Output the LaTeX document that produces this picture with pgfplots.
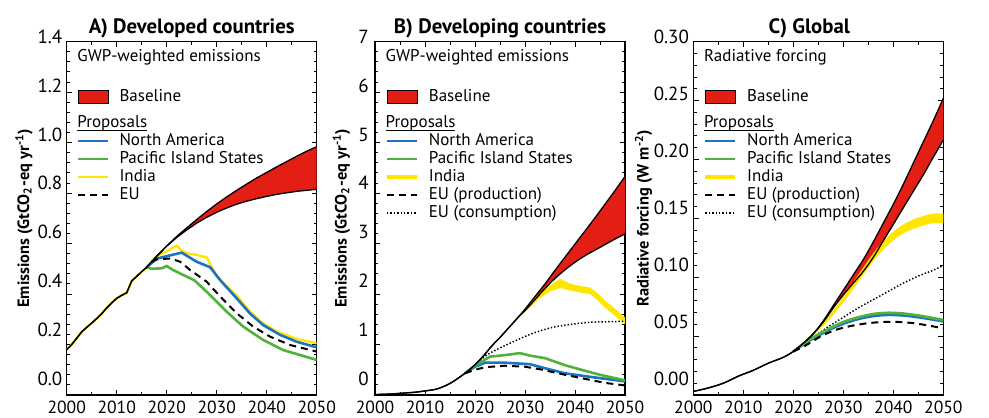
\documentclass[border=0pt]{standalone}
\usepackage{fontspec}
\setmainfont{PT Sans}
\usepackage{pgfplots}
\pgfplotsset{compat=1.18}
\usepgfplotslibrary{fillbetween}

\definecolor{bred}{RGB}{227,30,20}
\definecolor{nablue}{RGB}{30,115,190}
\definecolor{pisgreen}{RGB}{80,178,60}
\definecolor{indyellow}{RGB}{255,230,0}

\newcommand\lfont{\fontsize{8.5}{10}\selectfont}
% underlined heading of the proposal group
\newcommand\ulined[1]{\setbox0\hbox{#1}\rlap{\rule[-1.7pt]{\wd0}{0.45pt}}\box0}

\pgfplotsset{
  panel/.style={
    set layers,
    scale only axis, width=125pt, height=176.67pt,
    anchor=south west,
    xmin=2000, xmax=2050, xtick={2000,2010,2020,2030,2040,2050},
    minor x tick num=1, minor y tick num=4,
    tick align=inside, major tick length=2.6pt, minor tick length=1.6pt,
    axis line style={line width=0.6pt},
    every tick/.style={black, line width=0.45pt},
    /pgf/number format/assume math mode=true,
    xticklabel style={font=\fontsize{8.8}{10}\selectfont,
      /pgf/number format/1000 sep={}, inner sep=0pt, yshift=-3pt},
    yticklabel style={font=\fontsize{9.5}{11}\selectfont, inner xsep=2pt, inner ysep=0pt},
    every axis title/.style={at={(axis description cs:0.5,1)}, anchor=base, yshift=4.2pt,
      font=\bfseries\fontsize{10.4}{12}\selectfont},
    legend cell align=left,
    legend style={draw=none, fill=none, font=\lfont, inner sep=0pt, outer sep=0pt,
      row sep=1.4pt, column sep=5pt,
      nodes={inner sep=0pt, text height=6pt, text depth=1.6pt},
      at={(axis description cs:0.041,0.866)}, anchor=north west},
    legend image code/.code={\draw[##1] (0pt,0pt) -- (15pt,0pt);},
  },
  ylab/.style={every axis y label/.style={at={(axis description cs:#1,0.5)}, rotate=90,
    anchor=center, font=\bfseries\fontsize{8.2}{10}\selectfont}},
  shiftlab/.style={yticklabel={\pgfmathsetmacro\labraise{4.7-5.5*\tick/#1}%
    \raisebox{\labraise pt}[0pt][0pt]{\pgfmathprintnumber{\tick}}}},
  baseimg/.style={legend image code/.code={\draw[fill=bred, draw=black, line width=0.4pt]
    (0pt,-3.2pt) rectangle (15pt,3.2pt);}},
  nastyle/.style={nablue, line width=1.3pt},
  pisstyle/.style={pisgreen, line width=1.3pt},
  indstyle/.style={indyellow, line width=1.2pt},
  eustyle/.style={black, line width=1pt, dash pattern=on 3.5pt off 2.5pt},
  eucstyle/.style={black, line width=0.75pt, dash pattern=on 0.7pt off 1pt},
  basestyle/.style={black, line width=0.65pt},
}

\begin{document}
\begin{tikzpicture}

% ---------------- A) Developed countries ----------------
\begin{axis}[panel, ylab=-0.171, at={(33.35pt,11pt)},
  ymin=0, ymax=1.4, ytick={0,0.2,0.4,0.6,0.8,1.0,1.2,1.4}, shiftlab=1.4,
  yticklabel style={/pgf/number format/fixed, /pgf/number format/zerofill,
    /pgf/number format/precision=1},
  title={A) Developed countries},
  ylabel={Emissions (GtCO\textsubscript{2}-eq yr\textsuperscript{-1})}]
\node[anchor=base west, font=\lfont, inner sep=0pt] at (axis description cs:0.041,0.943) {GWP-weighted emissions};
\node[anchor=base west, font=\lfont, inner sep=0pt] at (axis description cs:0.041,0.757) {\ulined{Proposals}};

\addplot[indstyle, forget plot] coordinates {(2000,0.18)(2001,0.20)(2002,0.225)(2003,0.25)(2004,0.268)(2005,0.285)(2006,0.303)(2007,0.322)(2008,0.345)(2009,0.365)(2010,0.383)(2011,0.395)(2012,0.405)(2013,0.452)(2014,0.47)(2015,0.489)(2016,0.506)
  (2017,0.53)(2018,0.55)(2020,0.57)(2022,0.592)(2023,0.572)(2024,0.562)(2026,0.555)(2028,0.545)(2030,0.47)(2032,0.43)(2034,0.395)(2035,0.37)(2036.7,0.33)(2039,0.287)(2042,0.252)(2046,0.222)(2050,0.205)};
\addplot[nastyle, forget plot] coordinates {(2016,0.506)(2018,0.54)(2020,0.55)(2023,0.564)(2026,0.528)(2028.7,0.506)(2030.7,0.455)(2034,0.383)(2036.7,0.322)(2039.3,0.277)(2042.7,0.238)(2046,0.211)(2050,0.189)};
\addplot[pisstyle, forget plot] coordinates {(2016,0.506)(2017,0.5)(2019,0.502)(2020,0.511)(2021.3,0.495)(2024,0.469)(2025.5,0.455)(2028,0.409)(2032,0.33)(2035.3,0.271)(2039.3,0.218)(2043.3,0.178)(2050,0.139)};
\addplot[eustyle, forget plot] coordinates {(2017,0.528)(2018,0.537)(2020.7,0.541)(2022.7,0.528)(2024.7,0.495)(2028,0.449)(2030.7,0.39)(2034,0.324)(2037.3,0.271)(2040.7,0.231)(2044.7,0.198)(2050,0.172)};
\addplot[basestyle, name path=aup, forget plot] coordinates {(2000,0.18)(2001,0.20)(2002,0.225)(2003,0.25)(2004,0.268)(2005,0.285)(2006,0.303)(2007,0.322)(2008,0.345)(2009,0.365)(2010,0.383)(2011,0.395)(2012,0.405)(2013,0.452)(2014,0.47)(2015,0.489)(2016,0.506)(2017,0.528)(2018,0.55)(2019,0.57)(2020,0.59)
  (2022,0.628)(2024,0.662)(2026,0.695)(2028,0.727)(2030,0.757)(2032,0.785)(2034,0.811)(2036,0.836)(2038,0.86)(2040,0.882)(2042,0.904)(2044,0.925)(2046,0.946)(2048,0.966)(2050,0.984)};
\addplot[basestyle, name path=alo, forget plot] coordinates {(2000,0.18)(2001,0.20)(2002,0.225)(2003,0.25)(2004,0.268)(2005,0.285)(2006,0.303)(2007,0.322)(2008,0.345)(2009,0.365)(2010,0.383)(2011,0.395)(2012,0.405)(2013,0.452)(2014,0.47)(2015,0.489)(2016,0.506)(2017,0.528)(2018,0.55)(2019,0.57)(2020,0.59)
  (2022,0.624)(2024,0.654)(2026,0.681)(2028,0.704)(2030,0.724)(2032,0.741)(2034,0.756)(2036,0.768)(2038,0.778)(2040,0.787)(2042,0.795)(2044,0.801)(2046,0.807)(2048,0.811)(2050,0.815)};
\addplot[fill=bred, draw=none, forget plot] fill between[of=aup and alo];

\addlegendimage{baseimg}\addlegendentry{Baseline}
\addlegendimage{empty legend}\addlegendentry[text height=2.8pt, text depth=0pt]{\mbox{}}
\addlegendimage{empty legend}\addlegendentry{\mbox{}}
\addlegendimage{nastyle}\addlegendentry{North America}
\addlegendimage{pisstyle}\addlegendentry{Pacific Island States}
\addlegendimage{indstyle}\addlegendentry{India}
\addlegendimage{eustyle}\addlegendentry{EU}
\end{axis}

% ---------------- B) Developing countries ----------------
\begin{axis}[panel, ylab=-0.134, at={(187.5pt,11pt)},
  ymin=0, ymax=7, ytick={0,1,2,3,4,5,6,7}, shiftlab=7,
  yticklabel style={inner xsep=3pt},
  title={B) Developing countries},
  ylabel={Emissions (GtCO\textsubscript{2}-eq yr\textsuperscript{-1})}]
\node[anchor=base west, font=\lfont, inner sep=0pt] at (axis description cs:0.041,0.943) {GWP-weighted emissions};
\node[anchor=base west, font=\lfont, inner sep=0pt] at (axis description cs:0.041,0.757) {\ulined{Proposals}};

\addplot[draw=none, name path=bihi, forget plot] coordinates {(2028,1.49)(2029,1.6)(2031,1.82)(2033,2.02)(2035,2.17)(2037,2.3)(2039,2.21)(2041,2.16)(2043,2.13)(2044.5,2.02)(2046,1.87)(2048,1.71)(2050,1.54)};
\addplot[draw=none, name path=bilo, forget plot] coordinates {(2028,1.45)(2029,1.56)(2031,1.74)(2033,1.92)(2035,2.05)(2037,2.12)(2039,2.07)(2041,2.03)(2043,2.0)(2044.5,1.88)(2046,1.73)(2048,1.57)(2050,1.40)};
\addplot[eucstyle, smooth, forget plot] coordinates {(2019,0.51)(2020,0.6)(2021,0.69)(2023,0.83)(2026,0.98)(2030,1.16)(2033,1.27)(2036,1.35)(2040,1.41)(2043,1.44)(2046,1.45)(2050,1.46)};
\addplot[nastyle, forget plot] coordinates {(2018,0.43)(2020,0.56)(2022,0.64)(2026,0.64)(2031,0.61)(2034,0.53)(2038,0.43)(2043,0.36)(2050,0.27)};
\addplot[pisstyle, forget plot] coordinates {(2018,0.43)(2020,0.58)(2023,0.76)(2026,0.79)(2029,0.83)(2031,0.78)(2034,0.73)(2038,0.59)(2042,0.48)(2045,0.4)(2050,0.29)};
\addplot[eustyle, forget plot] coordinates {(2018,0.43)(2020,0.5)(2022,0.55)(2026,0.58)(2030,0.56)(2033,0.51)(2038,0.4)(2043,0.3)(2046,0.24)(2050,0.19)};
\addplot[basestyle, smooth, name path=bup, forget plot] coordinates {(2000,0.01)(2002,0.015)(2004,0.025)(2006,0.04)(2008,0.055)(2010,0.08)(2012,0.11)(2013,0.14)(2014,0.18)(2015,0.23)(2016,0.29)(2017,0.36)(2018,0.43)(2019,0.51)(2020,0.6)(2021,0.7)(2022,0.81)(2023,0.93)(2024,1.04)(2025,1.14)(2026,1.25)(2027,1.36)(2028,1.47)(2029,1.58)
  (2030,1.7)(2032,1.95)(2034,2.2)(2036,2.47)(2038,2.73)(2040,2.99)(2042,3.25)(2044,3.51)(2046,3.78)(2048,4.05)(2050,4.33)};
\addplot[basestyle, smooth, name path=blo, forget plot] coordinates {(2000,0.01)(2002,0.015)(2004,0.025)(2006,0.04)(2008,0.055)(2010,0.08)(2012,0.11)(2013,0.14)(2014,0.18)(2015,0.23)(2016,0.29)(2017,0.36)(2018,0.43)(2019,0.51)(2020,0.6)(2021,0.7)(2022,0.81)(2023,0.93)(2024,1.04)(2025,1.14)(2026,1.25)(2027,1.36)(2028,1.47)(2029,1.58)
  (2030,1.67)(2032,1.89)(2034,2.11)(2036,2.31)(2038,2.48)(2040,2.63)(2042,2.76)(2044,2.87)(2046,2.98)(2048,3.09)(2050,3.19)};
\addplot[fill=bred, draw=none, forget plot] fill between[of=bup and blo];
\addplot[fill=indyellow, draw=none, forget plot] fill between[of=bihi and bilo];

\addlegendimage{baseimg}\addlegendentry{Baseline}
\addlegendimage{empty legend}\addlegendentry[text height=2.8pt, text depth=0pt]{\mbox{}}
\addlegendimage{empty legend}\addlegendentry{\mbox{}}
\addlegendimage{nastyle}\addlegendentry{North America}
\addlegendimage{pisstyle}\addlegendentry{Pacific Island States}
\addlegendimage{indyellow, line width=1.8pt}\addlegendentry{India}
\addlegendimage{eustyle}\addlegendentry{EU (production)}
\addlegendimage{eucstyle}\addlegendentry{EU (consumption)}
\end{axis}

% ---------------- C) Global ----------------
\begin{axis}[panel, ylab=-0.199, at={(346.67pt,11pt)},
  ymin=0, ymax=0.3, ytick={0,0.05,0.1,0.15,0.2,0.25,0.3}, shiftlab=0.3,
  yticklabel style={/pgf/number format/fixed, /pgf/number format/zerofill,
    /pgf/number format/precision=2},
  title={C) Global}, title style={xshift=-4.5pt},
  ylabel={Radiative forcing (W m\textsuperscript{-2})}]
\node[anchor=base west, font=\lfont, inner sep=0pt] at (axis description cs:0.041,0.943) {Radiative forcing};
\node[anchor=base west, font=\lfont, inner sep=0pt] at (axis description cs:0.041,0.757) {\ulined{Proposals}};

\addplot[draw=none, smooth, name path=cihi, forget plot] coordinates {(2021,0.0405)(2024,0.0532)(2027,0.0668)(2030,0.0834)(2033,0.102)(2036,0.1203)(2038,0.1305)(2040,0.1387)(2042,0.1448)(2044,0.149)(2046,0.152)(2048,0.154)(2050,0.154)};
\addplot[draw=none, smooth, name path=cilo, forget plot] coordinates {(2021,0.0395)(2024,0.0508)(2027,0.0632)(2030,0.0786)(2033,0.096)(2036,0.1137)(2038,0.1235)(2040,0.1313)(2042,0.1372)(2044,0.141)(2046,0.144)(2048,0.146)(2050,0.146)};
\addplot[eucstyle, smooth, forget plot] coordinates {(2020,0.037)(2022,0.043)(2024,0.049)(2027,0.058)(2030,0.066)(2033,0.074)(2036,0.081)(2039,0.088)(2042,0.095)(2045,0.101)(2048,0.106)(2050,0.110)};
\addplot[nastyle, smooth, forget plot] coordinates {(2020,0.037)(2022,0.043)(2024,0.048)(2027,0.055)(2030,0.0605)(2033,0.0645)(2036,0.067)(2039,0.068)(2042,0.0675)(2045,0.066)(2048,0.064)(2050,0.0625)};
\addplot[pisstyle, smooth, forget plot] coordinates {(2020,0.037)(2022,0.043)(2024,0.049)(2027,0.056)(2030,0.062)(2033,0.066)(2036,0.0688)(2039,0.0698)(2042,0.0692)(2045,0.0675)(2048,0.0653)(2050,0.0637)};
\addplot[eustyle, smooth, forget plot] coordinates {(2020,0.037)(2022,0.041)(2024,0.046)(2026,0.051)(2029,0.056)(2032,0.059)(2035,0.061)(2038,0.062)(2041,0.062)(2044,0.061)(2047,0.059)(2050,0.0566)};
\addplot[basestyle, smooth, name path=cup, forget plot] coordinates {(2000,0.003)(2003,0.006)(2006,0.010)(2009,0.016)(2012,0.021)(2015,0.027)(2018,0.032)(2020,0.037)(2022,0.044)(2024,0.052)(2026,0.063)
  (2028,0.076)(2030,0.089)(2032,0.102)(2034,0.115)(2036,0.13)(2038,0.146)(2040,0.162)(2042,0.179)(2044,0.197)(2046,0.215)(2048,0.233)(2050,0.252)};
\addplot[basestyle, smooth, name path=clo, forget plot] coordinates {(2000,0.003)(2003,0.006)(2006,0.010)(2009,0.016)(2012,0.021)(2015,0.027)(2018,0.032)(2020,0.037)(2022,0.044)(2024,0.052)(2026,0.062)
  (2028,0.074)(2030,0.085)(2032,0.095)(2034,0.105)(2036,0.117)(2038,0.131)(2040,0.145)(2042,0.159)(2044,0.173)(2046,0.187)(2048,0.202)(2050,0.2165)};
\addplot[fill=bred, draw=none, forget plot] fill between[of=cup and clo];
\addplot[fill=indyellow, draw=none, forget plot] fill between[of=cihi and cilo];

\addlegendimage{baseimg}\addlegendentry{Baseline}
\addlegendimage{empty legend}\addlegendentry[text height=2.8pt, text depth=0pt]{\mbox{}}
\addlegendimage{empty legend}\addlegendentry{\mbox{}}
\addlegendimage{nastyle}\addlegendentry{North America}
\addlegendimage{pisstyle}\addlegendentry{Pacific Island States}
\addlegendimage{indyellow, line width=1.8pt}\addlegendentry{India}
\addlegendimage{eustyle}\addlegendentry{EU (production)}
\addlegendimage{eucstyle}\addlegendentry{EU (consumption)}
\end{axis}

\pgfresetboundingbox
\path (0,0) rectangle (494.5pt,208.5pt);
\end{tikzpicture}
\end{document}
